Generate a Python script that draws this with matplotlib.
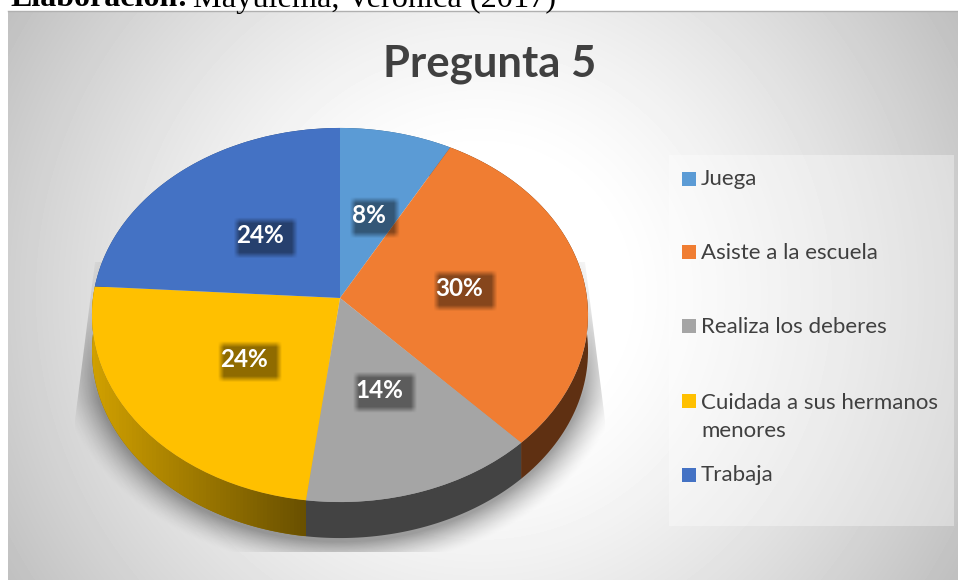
import numpy as np
import matplotlib
matplotlib.use('Agg')
import matplotlib.pyplot as plt
from matplotlib.patches import Polygon, Rectangle
from matplotlib.transforms import Transform

# Data
title = 'Pregunta 5'
categories = ['Juega', 'Asiste a la escuela', 'Realiza los deberes',
              'Cuidada a sus hermanos\nmenores', 'Trabaja']
values = [8, 30, 14, 24, 24]
colors = ['#5B9BD5', '#F07D32', '#A5A5A5', '#FFC000', '#4472C4']
side_colors = ['#2F5F8A', '#5F3012', '#434343', '#8A6A00', '#2A4A80']

W, H = 958, 580
CX, CY, A, B, P = 340, 298, 247, 185.5, 0.0909
DEPTH = 36


def project(xy, dy=0):
    # unit circle -> tilted pie, in pixels
    xy = np.asarray(xy, dtype=float)
    w = 1 + P * xy[..., 1]
    return np.stack([CX + A * xy[..., 0] / w, CY + dy - B * xy[..., 1] / w], axis=-1)


class Tilt(Transform):
    input_dims = 2
    output_dims = 2
    is_separable = False
    has_inverse = False

    def transform_non_affine(self, values):
        return project(values)


def soft_box(ax, x0, x1, y0, y1, alpha=0.44, soft=6):
    xs = np.arange(int(x0) - 1, int(x1) + 2) + 0.5
    ys = np.arange(int(y0) - 1, int(y1) + 2) + 0.5
    ax_ = np.clip(np.minimum(xs - x0, x1 - xs) / soft, 0, 1)
    ay_ = np.clip(np.minimum(ys - y0, y1 - ys) / soft, 0, 1)
    img = np.zeros((len(ys), len(xs), 4))
    img[..., 3] = alpha * np.outer(ay_, ax_)
    ax.imshow(img, extent=(xs[0] - .5, xs[-1] + .5, ys[-1] + .5, ys[0] - .5),
              aspect='auto', zorder=4, interpolation='bilinear')


fig = plt.figure(figsize=(W / 100, H / 100), dpi=100, facecolor='white')
ax = fig.add_axes([0, 0, 1, 1])

wedges, _, pct = ax.pie(values, colors=colors, startangle=90, counterclock=False,
                        autopct='%.0f%%', pctdistance=0.49,
                        textprops=dict(color='white', family='Lato', weight='bold', size=17.5,
                                       va='center_baseline'))
tilt = Tilt() + ax.transData
for wedge in wedges:
    wedge.set_transform(tilt)
    wedge.set_zorder(3)
    wedge.set_linewidth(0)

# Background
gx, gy = np.meshgrid(np.arange(8, W) + .5, np.arange(11, H) + .5)
r = np.hypot(gx - 480, gy - 295) / 550
bg = 255 - 63 * np.clip((r - 0.25) / 0.75, 0, 1) ** 1.3
ax.imshow(bg, extent=(8, W, H, 11), cmap='gray', vmin=0, vmax=255, aspect='auto', zorder=0)
ax.plot([8, W], [11, 11], color='#b0b0b0', lw=1, zorder=1)

# Shadow under the pie, cut to a trapezoid like the original
sx, sy = np.meshgrid(np.arange(75, 605) + .5, np.arange(262, 552) + .5)
rr = np.hypot((sx - 340) / 262, (sy - 345) / 205)
shadow = np.zeros(sx.shape + (4,))
ramp = np.clip((sy - 262) / 140, 0.25, 1)
shadow[..., 3] = 0.36 * ramp * np.clip((1.1 - rr) / 0.14, 0, 1) ** 1.5
sh = ax.imshow(shadow, extent=(75, 605, 552, 262), aspect='auto', zorder=1)
sh.set_clip_path(Polygon([(95, 262), (585, 262), (605, 420), (605, 552), (75, 552), (75, 420)],
                         closed=True, transform=ax.transData))

# Pie side
for wedge, side in zip(wedges, side_colors):
    t = np.radians(np.linspace(wedge.theta1, wedge.theta2, 80))
    rim = np.column_stack([np.cos(t), np.sin(t)])
    poly = np.vstack([project(rim), project(rim, DEPTH)[::-1]])
    patch = Polygon(poly, closed=True, facecolor=side, edgecolor='none', zorder=2)
    ax.add_patch(patch)
    if wedge.get_facecolor()[:3] == matplotlib.colors.to_rgb(colors[3]):
        grad = np.linspace([0xD0, 0xA0, 0x00], [0x69, 0x50, 0x00], 64).reshape(1, 64, 3) / 255
        im = ax.imshow(grad, extent=(poly[:, 0].min(), poly[:, 0].max(), poly[:, 1].max(), poly[:, 1].min()),
                       aspect='auto', zorder=2.5)
        im.set_clip_path(patch)

# Value labels with their dark boxes
for label in pct:
    label.set_transform(tilt)
    label.set_zorder(5)
    x, y = project(np.array(label.get_position()))
    half = 25 if len(label.get_text()) == 2 else 32
    soft_box(ax, x + 6 - half, x + 6 + half, y + 4 - 20.5, y + 4 + 20.5)

# Legend
ax.add_patch(Rectangle((669, 155), 285, 371, facecolor='white', alpha=0.35, edgecolor='none', zorder=1))
legend_tops = [172, 245, 319, 394, 468]
legend_base = [185, 259, 333, 437, 481]
for cat, color, top, base in zip(categories, colors, legend_tops, legend_base):
    ax.add_patch(Rectangle((682, top), 14, 14, facecolor=color, edgecolor='none', zorder=6))
    ax.text(701, base, cat, family='Lato', fontsize=16, color='#404040', va='baseline', ha='left',
            linespacing=1.5, zorder=6)

# Title and the caption cut off above the chart
ax.text(489.5, 77, title, family='Lato', weight='bold', fontsize=31.4, color='#404040',
        ha='center', va='baseline', zorder=6)
ax.text(10, 6.5, 'Elaboración:', family='Liberation Serif', weight='bold', fontsize=23,
        color='black', va='baseline', zorder=6)
ax.text(193, 6.5, 'Mayulema, Verónica (2017)', family='Liberation Serif', fontsize=23.3,
        color='black', va='baseline', zorder=6)

ax.set_aspect('auto')
ax.set_xlim(0, W)
ax.set_ylim(H, 0)
ax.axis('off')

fig.savefig('out.png', dpi=100)
